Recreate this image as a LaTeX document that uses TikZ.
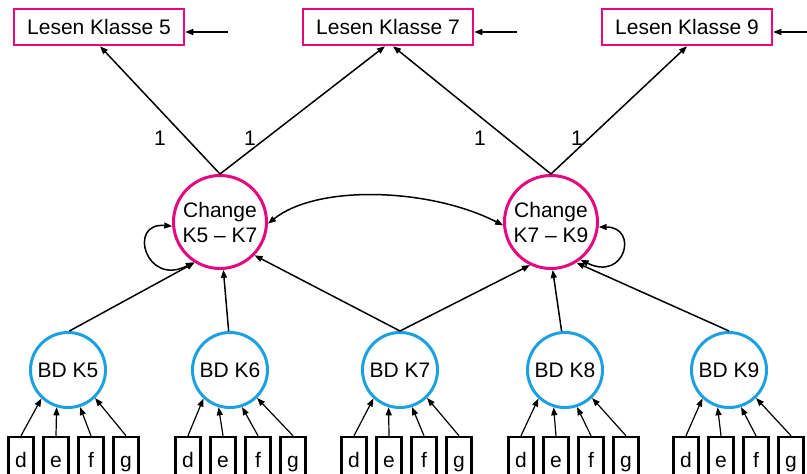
\documentclass[tikz,border=0pt]{standalone}
\usepackage{fontspec}
\setmainfont{Liberation Sans}
\usetikzlibrary{arrows.meta}
\definecolor{pinkc}{HTML}{E5087E}
\definecolor{bluec}{HTML}{1BA0E2}
\begin{document}
\begin{tikzpicture}[x=1pt,y=-1pt,
  txt/.style={font=\fontsize{21}{25}\selectfont},
  lesen/.style={txt,draw=pinkc,line width=2.5pt,minimum width=170pt,minimum height=36pt,inner sep=0pt},
  chg/.style={txt,circle,draw=pinkc,line width=3pt,minimum size=93pt,inner sep=0pt,align=center},
  bdc/.style={txt,circle,draw=bluec,line width=3pt,minimum size=75pt,inner sep=0pt},
  ind/.style={txt,draw=black,line width=2.5pt,minimum width=25pt,minimum height=40pt,inner sep=0pt,text height=22pt,text depth=2pt},
  arr/.style={line width=1.5pt,-{Triangle[length=8pt,width=6pt]}},
  darr/.style={line width=1.5pt,{Triangle[length=8pt,width=6pt]}-{Triangle[length=8pt,width=6pt]}},
  lbl/.style={txt,inner sep=0pt}
]
\useasboundingbox (0,0) rectangle (807,474);

% top boxes
\node[lesen] (l5) at (99,27) {Lesen Klasse 5};
\node[lesen] (l7) at (388,27) {Lesen Klasse 7};
\node[lesen] (l9) at (687,27) {Lesen Klasse 9};

% residual arrows into top boxes
\coordinate (e5) at (228,32);
\coordinate (e7) at (517,32);
\coordinate (e9) at (808,32);
\draw[arr] (e5) -- (e5 -| l5.east);
\draw[arr] (e7) -- (e7 -| l7.east);
\draw[arr] (e9) -- (e9 -| l9.east);

% change factors
\node[chg] (cl) at (220,222) {Change\\K5 -- K7};
\node[chg] (cr) at (551,222) {Change\\K7 -- K9};

% loadings to top boxes
\draw[arr] (cl.north) -- ([xshift=1pt]l5.south);
\draw[arr] (cl.north) -- ([xshift=-3pt]l7.south);
\draw[arr] (cr.north) -- ([xshift=5pt]l7.south);
\draw[arr] (cr.north) -- ([xshift=0pt]l9.south);

\node[lbl] (one1) at (160,138) {1};
\node[lbl] (one2) at (250,138) {1};
\node[lbl] (one3) at (480,138) {1};
\node[lbl] (one4) at (577,138) {1};

% covariance
\draw[darr] (cl.-2) .. controls +(50,-40) and +(-72,-37) .. (cr.184);

% variances (self loops)
\draw[darr] (cl.185) .. controls +(-45,-4) and +(-48,25) .. (cl.237);
\draw[darr] (cr.354) .. controls +(40,0) and +(45,22) .. (cr.308);

% BD factors
\node[bdc] (b5) at (68,370) {BD K5};
\node[bdc] (b6) at (230,370) {BD K6};
\node[bdc] (b7) at (400,370) {BD K7};
\node[bdc] (b8) at (565,370) {BD K8};
\node[bdc] (b9) at (729,370) {BD K9};

% paths BD -> change
\draw[arr] (b5.88) -- (cl.-122);
\draw[arr] (b6.92) -- (cl.-86);
\draw[arr] (b7.north) -- (cl.-44);
\draw[arr] (b7.north) -- (cr.-116);
\draw[arr] (b8.95) -- (cr.-88);
\draw[arr] (b9.north) -- (cr.-58);

% indicators
\foreach \g/\x in {5/21,6/188,7/354,8/521,9/686}{
  \node[ind] (d\g) at (\x,457) {d};
  \node[ind] (e\g) at (\x+35,457) {e};
  \node[ind] (f\g) at (\x+70,457) {f};
  \node[ind] (g\g) at (\x+105,457) {g};
  \draw[arr,line width=1.2pt] (d\g.north) -- (b\g.-133);
  \draw[arr,line width=1.2pt] (e\g.north) -- (b\g.-107);
  \draw[arr,line width=1.2pt] (f\g.north) -- (b\g.-72);
  \draw[arr,line width=1.2pt] (g\g.north) -- (b\g.-46);
}
\end{tikzpicture}
\end{document}
